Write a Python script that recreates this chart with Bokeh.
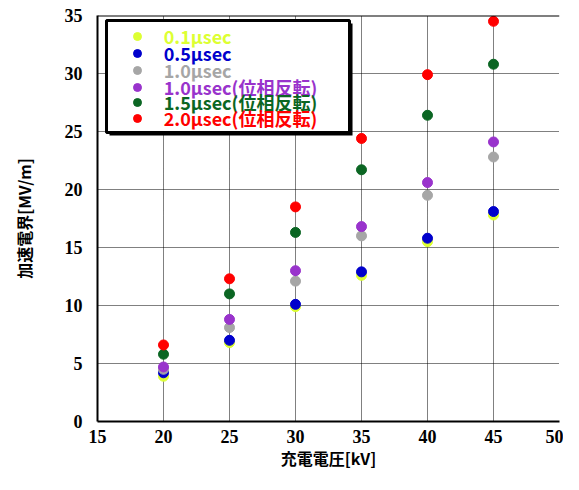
from bokeh.plotting import figure
from bokeh.models import Legend, LegendItem, BoxAnnotation, Span, FixedTicker, Range1d
from bokeh.embed import file_html
from bokeh.resources import INLINE

# ---- data ----
voltage = [20, 25, 30, 35, 40, 45]
e_01 = [3.9, 6.8, 9.9, 12.6, 15.5, 17.8]
e_05 = [4.2, 7.0, 10.1, 12.9, 15.8, 18.1]
e_10 = [4.5, 8.1, 12.1, 16.0, 19.5, 22.8]
e_10inv = [4.7, 8.8, 13.0, 16.8, 20.6, 24.1]
e_15inv = [5.8, 11.0, 16.3, 21.7, 26.4, 30.8]
e_20inv = [6.6, 12.3, 18.5, 24.4, 29.9, 34.5]
series = [e_01, e_05, e_10, e_10inv, e_15inv, e_20inv]
labels = ["0.1μsec", "0.5μsec", "1.0μsec",
          "1.0μsec(位相反転)", "1.5μsec(位相反転)", "2.0μsec(位相反転)"]
colors = ["#ddff33", "#0000cc", "#a6a6a6", "#9933cc", "#0b6623", "#ff0000"]
x_ticks = [15, 20, 25, 30, 35, 40, 45, 50]
y_ticks = [0, 5, 10, 15, 20, 25, 30, 35]
x_title = "充電電圧[kV]"
y_title = "加速電界[MV/m]"

X0, X1 = 15, 50
Y0, Y1 = 0, 35

TICK_FONT = "Liberation Sans Narrow"
CJK = "Noto Sans CJK JP"

FRAME_H = 406

p = figure(width=563, height=474, output_backend="svg",
           toolbar_location=None, x_range=Range1d(X0, X1), y_range=Range1d(Y0, Y1),
           min_border_left=97, min_border_right=4, min_border_top=15, min_border_bottom=53)
p.outline_line_color = None
p.background_fill_color = "white"

for ax in (p.xaxis[0], p.yaxis[0]):
    ax.axis_line_color = "black"
    ax.axis_line_width = 2
    ax.major_tick_line_color = None
    ax.minor_tick_line_color = None
    ax.major_label_text_font = TICK_FONT
    ax.major_label_text_font_style = "bold"
    ax.major_label_text_font_size = "18px"
    ax.major_label_text_color = "black"
    ax.axis_label_text_font = CJK
    ax.axis_label_text_font_style = "bold"
    ax.axis_label_text_font_size = "16px"
    ax.axis_label_text_color = "black"

p.xaxis.ticker = FixedTicker(ticks=x_ticks)
p.yaxis.ticker = FixedTicker(ticks=y_ticks)
p.xaxis.axis_label = x_title
p.yaxis.axis_label = y_title
p.xaxis.major_label_standoff = 2
p.yaxis.major_label_standoff = 9
p.xaxis.axis_label_standoff = 0
p.yaxis.axis_label_standoff = 26

for g in (p.xgrid[0], p.ygrid[0]):
    g.grid_line_color = "black"
    g.grid_line_dash = "1 1"
    g.grid_line_width = 1

p.add_layout(Span(location=Y1, dimension="width", line_color="black", line_width=2))

renderers = []
for ys, c in zip(series, colors):
    r = p.scatter(voltage, ys, size=10, fill_color=c, line_color=c)
    renderers.append(r)

# legend frame (shadow + white box)
p.add_layout(BoxAnnotation(left=15.91, right=34.32, top=34.31, bottom=24.66,
                           fill_color="black", fill_alpha=1, line_color=None))
p.add_layout(BoxAnnotation(left=15.68, right=34.09, top=34.57, bottom=24.91,
                           fill_color="white", fill_alpha=1, line_color="black",
                           line_width=3, line_alpha=1))

# legend row centres, in px below the top of the plot frame
row_y = [21.0, 38.0, 55.0, 71.5, 87.0, 103.0]
for lab, c, r, ry in zip(labels, colors, renderers, row_y):
    lg = Legend(items=[LegendItem(label=lab, renderers=[r])],
                location=(29.7, FRAME_H - ry - 15),
                padding=0, margin=0, spacing=0,
                glyph_width=20, glyph_height=30, label_height=30,
                label_standoff=17,
                border_line_color=None, background_fill_alpha=0,
                label_text_font=CJK, label_text_font_style="bold",
                label_text_font_size="18px", label_text_color=c)
    p.add_layout(lg, "center")

open("out.html", "w").write(file_html(p, INLINE))
